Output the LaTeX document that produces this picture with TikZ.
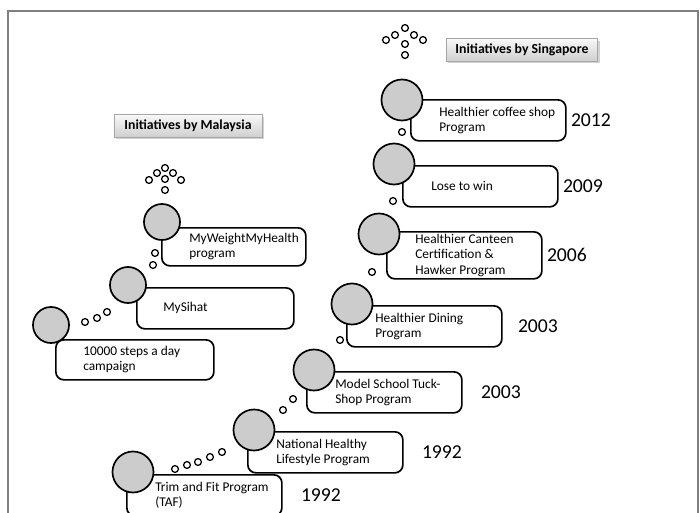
\documentclass[tikz,border=0pt]{standalone}
\usepackage{fontspec}
\setmainfont{Carlito}
\usetikzlibrary{positioning,shadows}

\begin{document}
\begin{tikzpicture}[
    x=0.025cm, y=-0.025cm,
    event/.style={rectangle, draw, rounded corners=0.2cm, line width=1.2pt, minimum width=3.875cm, minimum height=1.025cm, anchor=north west, inner sep=0pt},
    stone/.style={circle, draw, line width=1.2pt, fill=gray!40, minimum size=1.025cm, inner sep=0pt},
    smallstone/.style={stone, minimum size=0.9cm},
    lbl/.style={align=left, inner sep=0pt, font=\fontsize{9.5}{10.8}\selectfont},
    yr/.style={inner sep=0pt, font=\fontsize{14}{16}\selectfont},
    heading/.style={rectangle, draw=gray!70, top color=gray!5, bottom color=gray!38, drop shadow={opacity=0.35, shadow xshift=0.05cm, shadow yshift=-0.05cm}, minimum height=0.57cm, inner sep=0pt, font=\fontsize{9.8}{12}\selectfont\bfseries},
    bubble/.style={circle, draw, line width=0.9pt, inner sep=0pt, minimum size=0.17cm}
]
\useasboundingbox (0,0) rectangle (700,513);
\clip (0,0) rectangle (700,513);

% frame
\draw[gray, line width=1.4pt] (8,513) -- (8,11) -- (698,11) -- (698,513);

% Headings
\node[heading, minimum width=3.775cm] (sg-title) at (522,50) {Initiatives by Singapore};
\node[heading, minimum width=3.7cm] (my-title) at (188,126) {Initiatives by Malaysia};

\foreach \dx/\dy [count=\i] in {-19/12, -10/7, 0/0, 9/7, 18/12, 0/16, 0/27}
    \node[bubble] (sg-fl\i) at (405+\dx,28+\dy) {};
\foreach \dx/\dy [count=\i] in {-16/12, -8/5, 0/0, 8/5, 16/12, 0/11, 0/22}
    \node[bubble] (my-fl\i) at (165+\dx,168+\dy) {};

% Singapore
\node[event] (sg12) at (410,99) {};
\node[lbl, right=0.725cm of sg12.west] (sg12-txt) {Healthier coffee shop\\Program};
\node[yr, right=0.1cm of sg12] (sg12-yr) {2012};
\node[stone] (sg12-c) at (402,100) {};

\node[event] (sg09) at (402,165) {};
\node[lbl, right=0.725cm of sg09.west] (sg09-txt) {Lose to win};
\node[yr, right=0.1cm of sg09] (sg09-yr) {2009};
\node[stone] (sg09-c) at (394,164) {};

\node[event, minimum height=1.175cm] (sg06) at (386,231) {};
\node[lbl, right=0.725cm of sg06.west] (sg06-txt) {Healthier Canteen\\Certification \&\\Hawker Program};
\node[yr, right=0.1cm of sg06] (sg06-yr) {2006};
\node[stone] (sg06-c) at (379,234) {};

\node[event] (sg03a) at (346,305) {};
\node[lbl, right=0.725cm of sg03a.west] (sg03a-txt) {Healthier Dining\\Program};
\node[yr, right=0.375cm of sg03a] (sg03a-yr) {2003};
\node[stone] (sg03a-c) at (352,304) {};

\node[event] (sg03b) at (306,371) {};
\node[lbl, right=0.725cm of sg03b.west] (sg03b-txt) {Model School Tuck-\\Shop Program};
\node[yr, right=0.45cm of sg03b] (sg03b-yr) {2003};
\node[stone] (sg03b-c) at (314,370) {};

\node[event] (sg92a) at (247,431) {};
\node[lbl, right=0.725cm of sg92a.west] (sg92a-txt) {National Healthy\\Lifestyle Program};
\node[yr, right=0.45cm of sg92a] (sg92a-yr) {1992};
\node[stone] (sg92a-c) at (254,430) {};

\node[event] (sg92b) at (126,474) {};
\node[lbl, right=0.725cm of sg92b.west] (sg92b-txt) {Trim and Fit Program\\(TAF)};
\node[yr, right=0.45cm of sg92b] (sg92b-yr) {1992};
\node[stone] (sg92b-c) at (133,472) {};

% Malaysia
\node[event, minimum width=3.6cm, minimum height=0.95cm] (my-a) at (161,227) {};
\node[lbl, right=0.7cm of my-a.west] (my-a-txt) {MyWeightMyHealth\\program};
\node[smallstone] (my-a-c) at (162,222) {};

\node[event, minimum width=3.925cm] (my-b) at (136,287) {};
\node[lbl, right=0.675cm of my-b.west] (my-b-txt) {MySihat};
\node[smallstone] (my-b-c) at (128,285) {};

\node[event, minimum width=3.95cm, minimum height=1cm] (my-c) at (55,339) {};
\node[lbl, right=0.7cm of my-c.west] (my-c-txt) {10000 steps a day\\campaign};
\node[smallstone] (my-c-c) at (51,325) {};

% bubbles between the steps
\foreach \x/\y [count=\i] in {402/132, 393/201, 372/272, 340/340, 293/399, 283/410,
    175/469, 187/465, 198/462, 210/457, 222/452,
    155/253, 153/265, 85/322, 97/318, 107/312}
    \node[bubble] (step-b\i) at (\x,\y) {};

\end{tikzpicture}
\end{document}
